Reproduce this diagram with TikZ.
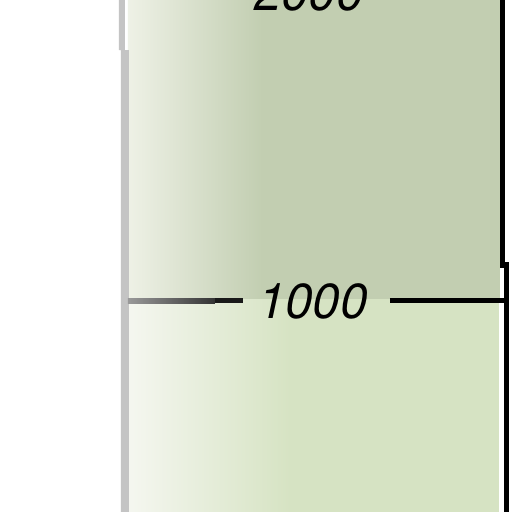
\documentclass[tikz,border=0pt]{standalone}
\usepackage{fontspec}
\setmainfont{TeX Gyre Heros}
\usetikzlibrary{calc}
\definecolor{hiGreen}{HTML}{C2CEB1}
\definecolor{loGreen}{HTML}{D6E3C3}
\definecolor{paleGreen}{HTML}{EEF1E6}
\definecolor{edgeGray}{HTML}{C4C4C4}

\begin{document}
\begin{tikzpicture}[x=0.02cm,y=-0.02cm,
  scalelbl/.style={font=\fontsize{28}{28}\selectfont\itshape,anchor=base,inner sep=0pt},
  tick/.style={line width=0.11cm}]
  \useasboundingbox (0,0) rectangle (512,512);
  \clip (0,0) rectangle (512,512);
  \fill[white] (0,0) rectangle (512,512);
  % upper and lower bands
  \shade[left color=paleGreen,right color=hiGreen] (128,0) rectangle (262,299);
  \fill[hiGreen] (261,0) rectangle (500,299);
  \shade[left color=paleGreen!60!white,right color=loGreen] (128,299) rectangle (290,512);
  \fill[loGreen] (289,299) rectangle (499,512);
  % edges
  \fill[edgeGray] (119,0) rectangle (125,50) (121,50) rectangle (129,512);
  \draw[tick] (502.5,0) -- (502.5,265) -- (506.5,265) -- (506.5,512);
  % scale labels and ticks
  \node[scalelbl] (lbl2000) at (309,10) {2000};
  \node[scalelbl] (lbl1000) at (313,318) {1000};
  \coordinate (tickL) at (128,300.5);
  \coordinate (tickR) at (506.5,300.5);
  \shade[left color=gray!80,right color=black!80] (tickL) ++(0,-2.5) rectangle (215,303);
  \fill[black!90] (215,297.5) rectangle (243,302.5);
  \draw[tick] (390,300.5) -- (tickR);
\end{tikzpicture}
\end{document}
